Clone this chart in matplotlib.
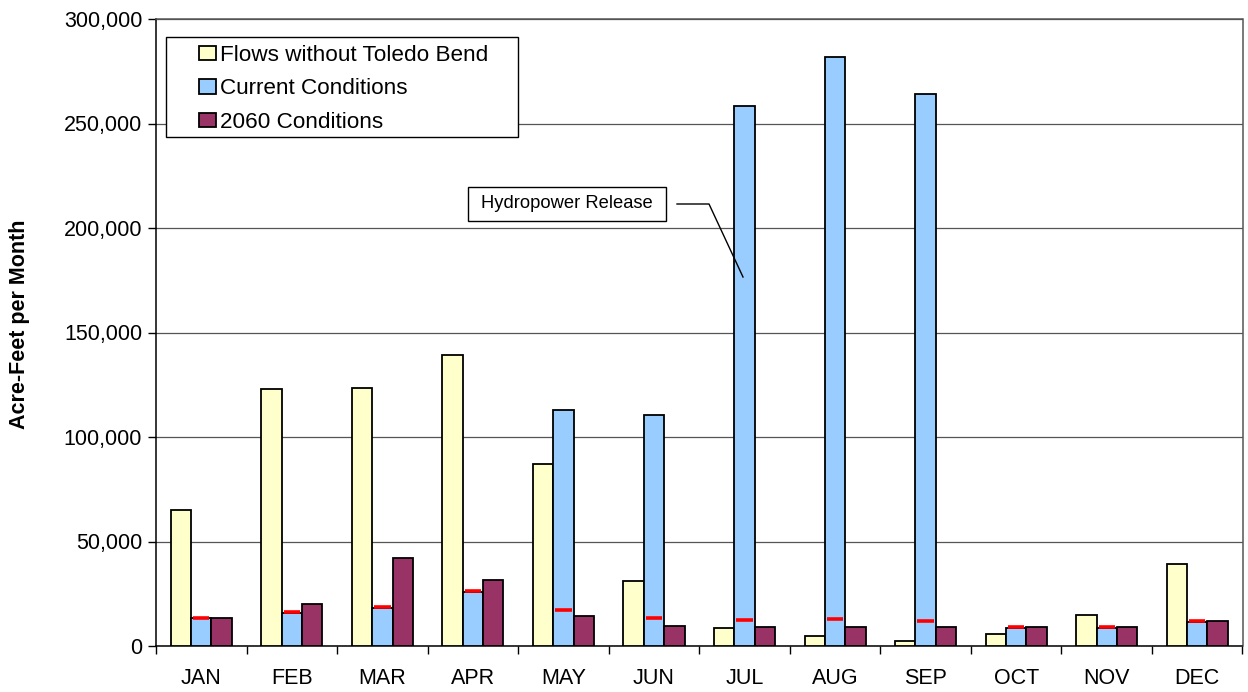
import matplotlib
matplotlib.use("Agg")
import matplotlib.pyplot as plt
import numpy as np
from matplotlib.ticker import FuncFormatter
from matplotlib.patches import Rectangle
from matplotlib.lines import Line2D

plt.rcParams['font.family'] = ['Liberation Sans', 'DejaVu Sans']

months = ["JAN", "FEB", "MAR", "APR", "MAY", "JUN", "JUL", "AUG", "SEP", "OCT", "NOV", "DEC"]
flows_without = [65000, 123000, 123500, 139000, 87000, 31000, 8500, 5000, 2500, 5800, 14800, 39000]
current = [13300, 16000, 18400, 26000, 113000, 110700, 258300, 281800, 264000, 8700, 8700, 11600]
cond_2060 = [13400, 20000, 41900, 31400, 14500, 9700, 9300, 9100, 8900, 8900, 9100, 11900]
red_marks = [13600, 16400, 18800, 26400, 17100, 13400, 12500, 12900, 12000, 9100, 9200, 12100]

series_names = ["Flows without Toledo Bend", "Current Conditions", "2060 Conditions"]
colors = ["#FFFFCC", "#99CCFF", "#993366"]

W, H = 1248, 692
def fx(px): return px / W
def fy(py): return 1 - py / H

fig = plt.figure(figsize=(W/100, H/100), dpi=100)
ax = fig.add_axes([fx(156), fy(646), (1242.5-156)/W, (646-19)/H])

x = np.arange(len(months))
w = 0.225
handles = []
for i, (vals, c, name) in enumerate(zip([flows_without, current, cond_2060], colors, series_names)):
    b = ax.bar(x + (i-1)*w, vals, width=w, color=c, edgecolor="black", linewidth=1.3,
               label=name, zorder=3)
    handles.append(b)

# red markers on current-condition bars
for xi, v in zip(x, red_marks):
    ax.plot([xi - 0.09, xi + 0.09], [v, v], color="#FF0000", lw=2.6,
            solid_capstyle="butt", zorder=4)

ax.set_xlim(-0.5, len(months)-0.5)
ax.set_ylim(0, 300000)
ax.set_yticks(np.arange(0, 300001, 50000))
ax.yaxis.set_major_formatter(FuncFormatter(lambda v, p: f"{int(v):,}"))
ax.set_xticks(x)
ax.set_xticklabels(months)
ax.set_xticks(np.arange(-0.5, len(months), 1), minor=True)
ax.tick_params(axis='x', which='major', length=0, labelsize=15.5, pad=16)
ax.tick_params(axis='x', which='minor', length=6, width=1, direction='out')
ax.tick_params(axis='y', length=6, width=1, direction='out', labelsize=15.5, pad=4)
ax.grid(axis='y', color="#555555", lw=0.9, zorder=0)
for s in ax.spines.values():
    s.set_color("black")
    s.set_linewidth(1.1)
ax.spines['top'].set_color("#555555")
ax.spines['right'].set_color("#555555")

ax.set_ylabel("Acre-Feet per Month", fontsize=15.5, fontweight="bold")
ax.yaxis.set_label_coords((30-156)/(1242.5-156), (646-324)/(646-19))

# legend: manual frame plus frameless legend
fig.add_artist(Rectangle((fx(166), fy(137)), (518-166)/W, (137-37)/H,
                         transform=fig.transFigure, fc="white", ec="black", lw=1.0, zorder=6))
leg = fig.legend(handles=handles, labels=series_names, loc="upper left",
                 bbox_to_anchor=(fx(199), fy(45)), bbox_transform=fig.transFigure,
                 fontsize=16.2, frameon=False, borderpad=0, borderaxespad=0,
                 handlelength=0.75, handleheight=0.62, handletextpad=0.18,
                 labelspacing=0.55)
leg.set_zorder(7)

# annotation box with leader line
fig.add_artist(Rectangle((fx(468), fy(221)), (666-468)/W, (221-187)/H,
                         transform=fig.transFigure, fc="white", ec="black", lw=1.0, zorder=6))
fig.text(fx(567), fy(204), "Hydropower Release", fontsize=13.2, ha="center", va="center",
         zorder=7)
fig.add_artist(Line2D([fx(677), fx(709), fx(743)], [fy(204), fy(204), fy(277)],
                      transform=fig.transFigure, color="black", lw=1.0, zorder=6))

fig.savefig("out.png", dpi=100)
